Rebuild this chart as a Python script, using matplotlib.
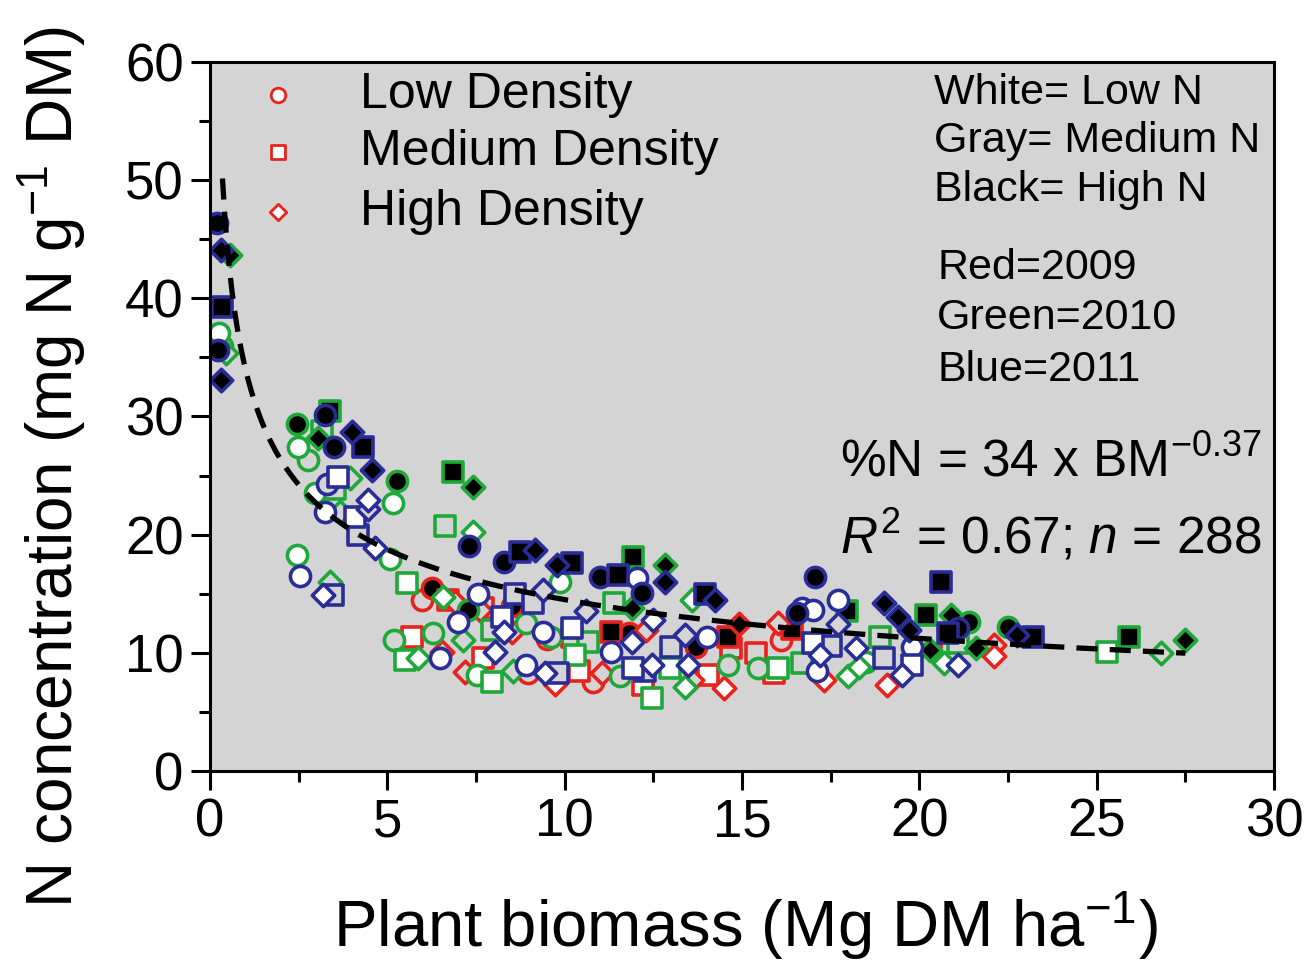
import matplotlib
matplotlib.use('Agg')
import matplotlib.pyplot as plt
import numpy as np

plt.rcParams['font.family'] = ['Liberation Sans', 'DejaVu Sans']
plt.rcParams['mathtext.fontset'] = 'custom'
plt.rcParams['mathtext.rm'] = 'Liberation Sans'
plt.rcParams['mathtext.it'] = 'Liberation Sans:italic'

# kind = shape + fill
# shape: o = low density, s = medium density, d = high density
# fill:  w = low N (white), g = medium N (gray), k = high N (black)

# Red = 2009
red_x = [6.26, 5.98, 6.71, 7.6, 5.7, 6.54, 7.7, 7.19, 7.7, 8.5,
         8.97, 9.73, 10.2, 10.4, 11.05, 10.8, 11.3, 11.8, 12.3, 12.2,
         13.6, 13.7, 14.04, 14.5, 14.6, 14.9, 14.7, 15.4, 15.9, 16.0,
         16.1, 16.4, 17.3, 19.1, 20.9, 22.1, 22.1, 6.9, 8.5, 9.5]
red_y = [15.5, 14.5, 14.5, 13.6, 11.3, 10.1, 9.6, 8.4, 13.8, 14.0,
         8.3, 7.4, 11.3, 8.5, 8.3, 7.5, 11.8, 11.7, 11.9, 7.3,
         7.7, 10.5, 8.1, 7.0, 11.3, 12.4, 10.4, 10.0, 8.3, 12.5,
         11.1, 12.0, 7.7, 7.3, 10.2, 10.7, 9.7, 14.3, 11.8, 11.2]
red_kind = ['ok', 'og', 'sg', 'dg', 'sw', 'dg', 'sw', 'dg', 'sg', 'ok',
            'og', 'dw', 'sg', 'sw', 'dg', 'og', 'sk', 'ok', 'dg', 'sw',
            'dg', 'ok', 'sw', 'dw', 'sk', 'dk', 'sg', 'sg', 'sw', 'dg',
            'og', 'sk', 'dw', 'dw', 'sg', 'dg', 'dw', 'dg', 'dg', 'og']

# Green = 2010
green_x = [0.56, 0.25, 0.35, 0.45, 2.45, 3.16, 3.38, 3.05, 5.27, 5.16,
           2.48, 2.77, 3.95, 3.52, 2.96, 3.67, 5.07, 6.63, 7.41, 6.85,
           7.41, 2.45, 3.38, 5.55, 6.57, 7.27, 7.95, 6.29, 7.13, 5.2,
           5.5, 5.86, 7.53, 7.95, 8.54, 9.87, 11.93, 12.83, 13.59, 8.9,
           9.6, 11.4, 11.9, 11.56, 12.46, 12.97, 13.4, 14.6, 15.45, 16.0,
           16.7, 17.96, 18.9, 18.0, 18.3, 18.5, 20.2, 20.9, 21.4, 21.6,
           22.5, 20.3, 20.7, 21.1, 25.3, 25.9, 26.8, 27.5, 10.65, 10.3]
green_y = [43.7, 37.1, 36.0, 35.4, 29.4, 28.8, 30.5, 28.2, 24.5, 22.7,
           27.4, 26.3, 24.8, 23.9, 23.5, 21.9, 17.9, 20.7, 20.2, 25.3,
           24.0, 18.3, 16.0, 15.9, 14.7, 13.6, 11.9, 11.7, 11.1, 11.1,
           9.4, 9.6, 8.1, 7.5, 8.5, 16.0, 18.1, 17.4, 14.5, 12.5,
           11.3, 14.2, 13.8, 8.0, 6.2, 8.7, 7.1, 9.0, 8.7, 8.7,
           9.1, 13.5, 11.3, 8.0, 8.8, 9.2, 13.2, 13.2, 12.6, 10.4,
           12.2, 10.2, 9.1, 10.8, 10.1, 11.3, 10.0, 11.1, 10.9, 9.8]
green_kind = ['dk', 'ow', 'og', 'dg', 'ok', 'sg', 'sk', 'dk', 'ok', 'ow',
              'ow', 'og', 'dg', 'sg', 'ow', 'dg', 'ow', 'sg', 'dw', 'sk',
              'dk', 'ow', 'dg', 'sw', 'dw', 'ok', 'sg', 'og', 'dg', 'og',
              'sw', 'dw', 'ow', 'sw', 'dg', 'ow', 'sk', 'dk', 'dw', 'og',
              'og', 'sg', 'dk', 'og', 'sw', 'sw', 'dw', 'og', 'og', 'sw',
              'sg', 'sk', 'sg', 'dw', 'dw', 'ow', 'sk', 'dk', 'ok', 'dk',
              'ok', 'dk', 'dw', 'sg', 'sw', 'sk', 'dg', 'dk', 'sg', 'sw']

# Blue = 2011
blue_x = [0.2, 0.3, 0.34, 0.23, 0.3, 3.24, 3.5, 4.0, 4.3, 4.57,
          3.6, 3.3, 4.45, 4.45, 3.24, 4.09, 4.17, 4.65, 7.3, 8.3,
          2.54, 3.19, 3.47, 7.56, 6.99, 8.23, 8.3, 6.48, 8.03, 8.74,
          9.16, 9.78, 10.2, 11.0, 11.5, 12.04, 12.18, 12.83, 13.96, 14.24,
          17.06, 16.7, 17.0, 16.55, 8.6, 9.1, 9.4, 9.4, 10.2, 10.6,
          11.9, 12.5, 11.3, 13.0, 13.4, 14.0, 17.0, 17.2, 17.1, 8.9,
          9.44, 9.8, 11.93, 12.26, 12.46, 13.48, 17.7, 20.6, 19.0, 19.4,
          20.8, 21.1, 19.7, 19.8, 22.75, 23.2, 21.1, 19.0, 19.5, 19.8,
          18.2, 17.7, 17.5]
blue_y = [46.4, 44.1, 39.3, 35.6, 33.1, 30.1, 27.4, 28.7, 27.4, 25.5,
          24.9, 24.3, 22.9, 22.2, 21.9, 21.5, 20.0, 18.9, 19.0, 17.7,
          16.5, 14.9, 14.9, 15.0, 12.6, 13.0, 11.8, 9.6, 10.1, 18.5,
          18.7, 17.4, 17.6, 16.4, 16.6, 16.3, 15.1, 16.0, 15.0, 14.5,
          16.4, 13.8, 13.6, 13.4, 15.0, 14.2, 15.3, 11.8, 12.1, 13.5,
          10.9, 12.8, 10.1, 10.5, 11.5, 11.3, 10.8, 9.8, 8.5, 9.0,
          8.3, 8.3, 8.7, 8.5, 9.0, 9.0, 14.5, 16.0, 14.2, 13.0,
          11.7, 12.1, 11.9, 10.5, 11.5, 11.3, 9.0, 9.6, 8.1, 9.0,
          10.4, 12.4, 10.6]
blue_kind = ['ok', 'dk', 'sk', 'ok', 'dk', 'ok', 'ok', 'dk', 'sk', 'dk',
             'sw', 'og', 'dw', 'dg', 'ow', 'sw', 'sg', 'dw', 'ok', 'ok',
             'ow', 'dw', 'sg', 'ow', 'ow', 'sw', 'dw', 'ow', 'dw', 'sk',
             'dk', 'dk', 'sk', 'ok', 'sk', 'ow', 'ok', 'dk', 'sk', 'dk',
             'ok', 'ow', 'ow', 'ok', 'sg', 'sg', 'dg', 'ow', 'sw', 'dg',
             'dw', 'dw', 'ow', 'sg', 'dg', 'ow', 'sw', 'dw', 'ow', 'ow',
             'dw', 'sg', 'sw', 'sg', 'dw', 'dw', 'ow', 'sk', 'dk', 'dk',
             'sk', 'ok', 'dk', 'ow', 'dk', 'sk', 'dw', 'sg', 'dw', 'sw',
             'dw', 'dg', 'sg']

# fitted curve  %N = 34 x BM^-0.37
fit_a = 34
fit_b = -0.37
fit_xmin = 0.35
fit_xmax = 27.5

year_colors = {'red': '#e8221c', 'green': '#1ea83a', 'blue': '#2a2c98'}
bg = '#d4d4d4'
fills = {'w': 'white', 'g': bg, 'k': 'black'}
markers = {'o': ('o', 210), 's': ('s', 200), 'd': ('D', 130)}

fig = plt.figure(figsize=(13.07, 9.65), dpi=100)
ax = fig.add_axes([0.1607, 0.201, 0.8141, 0.7348])
ax.set_facecolor(bg)

series = [('red', red_x, red_y, red_kind),
          ('green', green_x, green_y, green_kind),
          ('blue', blue_x, blue_y, blue_kind)]
for name, xs, ys, kinds in series:
    xs = np.array(xs)
    ys = np.array(ys)
    shp = np.array([k[0] for k in kinds])
    fil = np.array([k[1] for k in kinds])
    for s in 'osd':
        for f in 'gwk':
            m = (shp == s) & (fil == f)
            if m.sum() == 0:
                continue
            mk, sz = markers[s]
            ax.scatter(xs[m], ys[m], marker=mk, s=sz, facecolor=fills[f],
                       edgecolor=year_colors[name], linewidths=2.6, zorder=2)

xf = np.linspace(fit_xmin, fit_xmax, 400)
ax.plot(xf, fit_a * xf ** fit_b, color='black', lw=3.8, ls=(0, (4, 2.3)), zorder=4)

# density legend
leg_y = [57.2, 52.4, 47.3]
leg_lab = ['Low Density', 'Medium Density', 'High Density']
for yy, lab, mk in zip(leg_y, leg_lab, ['o', 's', 'D']):
    ax.scatter([1.92], [yy], marker=mk, s=110 if mk != 'D' else 70, facecolor='white',
               edgecolor=year_colors['red'], linewidths=2.0, zorder=3)
    ax.text(4.23, yy, lab, fontsize=36, va='center', ha='left')

for yy, t in zip([57.4, 53.3, 49.2], ['White= Low N', 'Gray= Medium N', 'Black= High N']):
    ax.text(20.4, yy, t, fontsize=31, va='center', ha='left')
for yy, t in zip([42.6, 38.3, 33.9], ['Red=2009', 'Green=2010', 'Blue=2011']):
    ax.text(20.5, yy, t, fontsize=31, va='center', ha='left')

ax.text(17.76, 26.1, r'%N = 34 x BM$^{-0.37}$', fontsize=37, va='center', ha='left')
ax.text(17.76, 19.8, r'$R^2$ = 0.67; $n$ = 288', fontsize=37, va='center', ha='left')

ax.set_xlim(0, 30)
ax.set_ylim(0, 60)
ax.set_xticks([0, 5, 10, 15, 20, 25, 30])
ax.set_yticks([0, 10, 20, 30, 40, 50, 60])
ax.set_xticks(np.arange(2.5, 30, 5), minor=True)
ax.set_yticks(np.arange(5, 60, 10), minor=True)
ax.tick_params(which='major', direction='out', length=14, width=2.2, labelsize=38, pad=5)
ax.tick_params(which='minor', direction='out', length=8, width=2.2)
for sp in ax.spines.values():
    sp.set_linewidth(2.2)

fig.text(745 / 1307, 1 - 926 / 965, 'Plant biomass (Mg DM ha$^{-1}$)', fontsize=47,
         ha='center', va='center')
fig.text(52 / 1307, 1 - 467 / 965, 'N concentration (mg N g$^{-1}$ DM)', fontsize=46,
         ha='center', va='center', rotation=90)

fig.savefig('out.png', dpi=100)
